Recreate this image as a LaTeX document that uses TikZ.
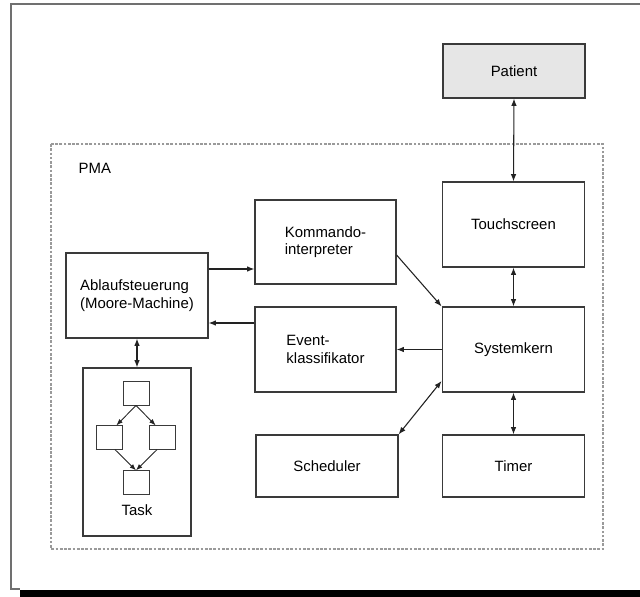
\documentclass[tikz,border=0pt]{standalone}
\usepackage{fontspec}
\setmainfont{Liberation Sans}
\usetikzlibrary{arrows.meta,calc}

\definecolor{boxline}{HTML}{3A3A3A}
\definecolor{arrowline}{HTML}{222222}
\definecolor{frameline}{HTML}{707070}
\definecolor{dashline}{HTML}{9A9A9A}
\definecolor{patientfill}{HTML}{E6E6E6}

\tikzset{
  block/.style={draw=boxline, line width=0.9pt, fill=white, inner sep=0pt,
    align=left, font=\fontsize{11.2}{13.2}\selectfont},
  mini/.style={draw=boxline, line width=0.75pt, fill=white, inner sep=0pt},
  arr/.style={draw=arrowline, line width=0.8pt, -{Latex[length=5.5pt,width=4.2pt]}},
  biarr/.style={draw=arrowline, line width=0.8pt,
    {Latex[length=5.5pt,width=4.2pt]}-{Latex[length=5.5pt,width=4.2pt]}},
  smallarr/.style={draw=arrowline, line width=0.65pt, -{Latex[length=4.8pt,width=3.6pt]}}
}

\begin{document}
\begin{tikzpicture}[x=0.75pt, y=-0.75pt]
  \useasboundingbox (0,0) rectangle (640,597);
  \fill[white] (0,0) rectangle (640,597);

  % outer frame with its drop shadow
  \fill[black] (20,589.5) rectangle (640,597);
  \draw[frameline, line width=1.1pt] (640,4) -- (11,4) -- (11,589) -- (20,589);

  % PMA region
  \draw[dashline, line width=0.8pt, dash pattern=on 2pt off 1.2pt] (51,144) rectangle (603,549);
  \node[anchor=west, font=\fontsize{11.2}{13.2}\selectfont] (pma) at (74,168) {PMA};

  % blocks
  \node[block, fill=patientfill, minimum width=106.5pt, minimum height=40.5pt] (patient) at (514,71) {Patient};
  \node[block, minimum width=106.5pt, minimum height=63.75pt] (touch) at (513.5,224.5) {Touchscreen};
  \node[block, minimum width=107pt, minimum height=63.75pt] (sys) at (513.5,349.5) {Systemkern};
  \node[block, minimum width=106.5pt, minimum height=46.5pt] (timer) at (513.5,466) {Timer};
  \node[block, minimum width=106.5pt, minimum height=46.5pt] (sched) at (327,466) {Scheduler};
  \node[block, minimum width=105.75pt, minimum height=63pt] (kmd) at (325.5,242) {Kommando-\\interpreter};
  \node[block, minimum width=105.75pt, minimum height=63.75pt] (event) at (325.5,349.5) {Event-\\klassifikator};
  \node[block, minimum width=106.5pt, minimum height=63.75pt] (ablauf) at (137,295.5) {Ablaufsteuerung\\(Moore-Machine)};

  % task with its internal flow
  \node[block, minimum width=81pt, minimum height=126pt] (task) at (137,452) {};
  \node[font=\fontsize{11.2}{13.2}\selectfont] (tasklabel) at (137,510) {Task};
  \node[mini, minimum width=19.5pt, minimum height=18pt] (t1) at (136,393) {};
  \node[mini, minimum width=20pt, minimum height=17.5pt] (t2) at (109.5,437.5) {};
  \node[mini, minimum width=20pt, minimum height=17.5pt] (t3) at (162.5,437.5) {};
  \node[mini, minimum width=19.5pt, minimum height=17.5pt] (t4) at (136,482.5) {};

  \draw[smallarr] (t1.south) -- ($(t2.north)!0.5!(t2.north east)$);
  \draw[smallarr] (t1.south) -- ($(t3.north west)!0.5!(t3.north)$);
  \draw[smallarr] ($(t2.south)!0.4!(t2.south east)$) -- (t4.north);
  \draw[smallarr] ($(t3.south west)!0.6!(t3.south)$) -- (t4.north);

  % helper levels for connectors
  \coordinate (lvlA) at (0,269);
  \coordinate (lvlB) at (0,323);
  \coordinate (lvlC) at (0,255);
  \coordinate (lvlD) at (0,381);

  % connectors
  \draw[biarr] (patient.south) -- (touch.north);
  \draw[biarr] (touch.south) -- (sys.north);
  \draw[biarr] (sys.south) -- (timer.north);
  \draw[arr] (ablauf.east |- lvlA) -- (kmd.west |- lvlA);
  \draw[arr] (event.west |- lvlB) -- (ablauf.east |- lvlB);
  \draw[arr] (sys.west) -- (event.east);
  \draw[arr] (kmd.east |- lvlC) -- (sys.north west);
  \draw[biarr] (sys.west |- lvlD) -- (sched.north east);
  \draw[biarr] (ablauf.south) -- (task.north);
\end{tikzpicture}
\end{document}
